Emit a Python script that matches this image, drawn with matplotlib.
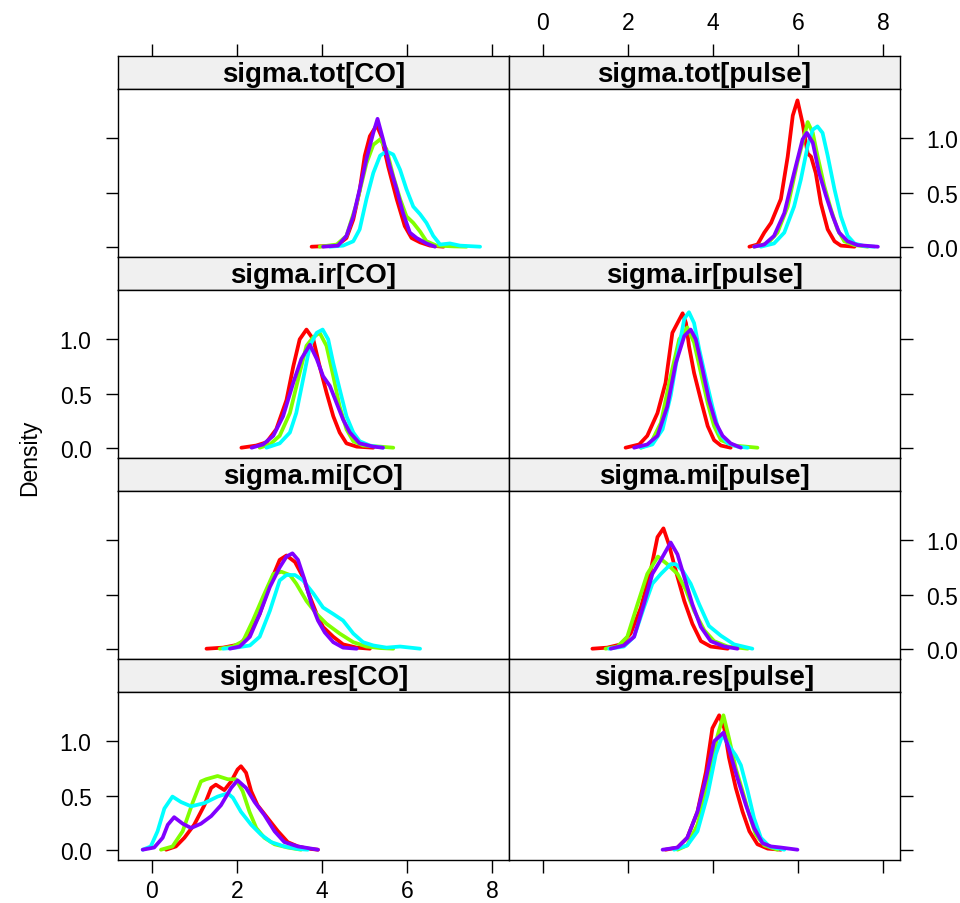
import matplotlib
matplotlib.use("Agg")
import matplotlib.pyplot as plt

plt.rcParams["font.family"] = ["Liberation Sans", "DejaVu Sans"]

# chain colours (rainbow(4))
chain_colors = ["#FF0000", "#80FF00", "#00FFFF", "#8000FF"]

panel_titles = [
    ["sigma.tot[CO]", "sigma.tot[pulse]"],
    ["sigma.ir[CO]", "sigma.ir[pulse]"],
    ["sigma.mi[CO]", "sigma.mi[pulse]"],
    ["sigma.res[CO]", "sigma.res[pulse]"],
]

x_ticks = [0, 2, 4, 6, 8]
y_ticks = [0.0, 0.5, 1.0]
y_tick_labels = ["0.0", "0.5", "1.0"]

# --- density curves: (x, density) per chain ---
# sigma.tot[CO]
tot_co_red = ([3.76, 4.35, 4.58, 4.74, 4.89, 5.01, 5.13, 5.29, 5.40, 5.56, 5.76, 5.95, 6.11, 6.31, 6.54, 6.86],
              [0, 0.01, 0.08, 0.25, 0.52, 0.84, 1.02, 1.12, 1.02, 0.74, 0.44, 0.19, 0.08, 0.04, 0.01, 0])
tot_co_green = ([3.95, 4.35, 4.58, 4.82, 5.05, 5.21, 5.37, 5.52, 5.68, 5.84, 5.99, 6.15, 6.31, 6.46, 6.70, 7.09, 7.40],
                [0, 0.02, 0.10, 0.40, 0.77, 0.94, 0.99, 0.90, 0.65, 0.44, 0.28, 0.22, 0.14, 0.05, 0.01, 0.003, 0])
tot_co_cyan = ([4.19, 4.50, 4.74, 4.89, 5.05, 5.21, 5.37, 5.52, 5.68, 5.84, 5.99, 6.15, 6.31, 6.46, 6.62, 6.78, 7.01, 7.25, 7.72],
               [0, 0.01, 0.05, 0.16, 0.44, 0.68, 0.84, 0.88, 0.85, 0.71, 0.53, 0.37, 0.30, 0.22, 0.10, 0.02, 0.03, 0.01, 0])
tot_co_purple = ([4.03, 4.38, 4.58, 4.74, 4.89, 5.05, 5.21, 5.31, 5.44, 5.60, 5.76, 5.91, 6.07, 6.23, 6.46, 6.66],
                 [0, 0.01, 0.10, 0.28, 0.53, 0.81, 1.05, 1.18, 0.99, 0.74, 0.53, 0.31, 0.13, 0.08, 0.03, 0])

# sigma.tot[pulse]
tot_pulse_red = ([4.86, 5.05, 5.21, 5.37, 5.60, 5.76, 5.88, 5.99, 6.11, 6.23, 6.31, 6.42, 6.54, 6.70, 6.86, 7.01, 7.33],
                 [0, 0.02, 0.13, 0.22, 0.44, 0.83, 1.21, 1.35, 1.14, 0.86, 0.83, 0.68, 0.40, 0.16, 0.05, 0.01, 0])
tot_pulse_green = ([4.97, 5.29, 5.52, 5.76, 5.99, 6.15, 6.23, 6.35, 6.46, 6.62, 6.78, 6.93, 7.09, 7.33, 7.64],
                   [0, 0.03, 0.13, 0.37, 0.78, 1.02, 1.15, 1.05, 0.84, 0.56, 0.34, 0.16, 0.05, 0.015, 0])
tot_pulse_cyan = ([5.13, 5.44, 5.68, 5.91, 6.07, 6.23, 6.35, 6.46, 6.58, 6.70, 6.86, 7.01, 7.17, 7.33, 7.56, 7.80],
                  [0, 0.03, 0.13, 0.37, 0.62, 0.93, 1.08, 1.11, 1.05, 0.84, 0.53, 0.28, 0.10, 0.03, 0.006, 0])
tot_pulse_purple = ([4.97, 5.21, 5.44, 5.68, 5.91, 6.11, 6.21, 6.35, 6.50, 6.66, 6.82, 6.97, 7.17, 7.40, 7.88],
                    [0, 0.02, 0.10, 0.31, 0.68, 0.99, 1.05, 0.96, 0.68, 0.47, 0.28, 0.13, 0.05, 0.015, 0])

# sigma.ir[CO]
ir_co_red = ([2.11, 2.46, 2.70, 2.93, 3.17, 3.33, 3.48, 3.64, 3.80, 3.95, 4.11, 4.27, 4.42, 4.58, 4.82, 5.21],
             [0, 0.02, 0.05, 0.17, 0.44, 0.75, 1.0, 1.09, 1.0, 0.75, 0.51, 0.29, 0.14, 0.04, 0.01, 0])
ir_co_green = ([2.54, 2.78, 3.01, 3.25, 3.48, 3.64, 3.80, 3.95, 4.11, 4.27, 4.42, 4.58, 4.74, 4.97, 5.37, 5.68],
               [0, 0.03, 0.11, 0.32, 0.69, 0.94, 1.02, 1.06, 0.94, 0.66, 0.38, 0.17, 0.06, 0.02, 0.01, 0])
ir_co_cyan = ([2.70, 3.01, 3.25, 3.40, 3.56, 3.72, 3.88, 4.02, 4.15, 4.27, 4.42, 4.58, 4.74, 4.89, 5.13, 5.44],
              [0, 0.04, 0.14, 0.32, 0.63, 0.94, 1.06, 1.09, 1.0, 0.78, 0.54, 0.29, 0.14, 0.06, 0.02, 0])
ir_co_purple = ([2.35, 2.62, 2.86, 3.09, 3.33, 3.52, 3.72, 3.88, 4.03, 4.19, 4.35, 4.50, 4.66, 4.89, 5.21, 5.44],
                [0, 0.03, 0.11, 0.29, 0.60, 0.82, 0.95, 0.82, 0.66, 0.57, 0.41, 0.26, 0.14, 0.04, 0.01, 0])

# sigma.ir[pulse]
ir_pulse_red = ([1.95, 2.27, 2.46, 2.70, 2.89, 3.05, 3.17, 3.29, 3.37, 3.44, 3.56, 3.72, 3.88, 4.03, 4.19, 4.42],
                [0, 0.03, 0.11, 0.32, 0.60, 1.06, 1.15, 1.24, 1.15, 0.94, 0.69, 0.44, 0.20, 0.07, 0.02, 0])
ir_pulse_green = ([2.31, 2.54, 2.78, 3.01, 3.21, 3.40, 3.56, 3.72, 3.88, 4.03, 4.19, 4.50, 5.05],
                  [0, 0.04, 0.23, 0.66, 1.0, 1.11, 0.97, 0.69, 0.41, 0.20, 0.07, 0.02, 0])
ir_pulse_cyan = ([2.31, 2.58, 2.82, 3.01, 3.21, 3.33, 3.44, 3.56, 3.68, 3.84, 3.99, 4.15, 4.35, 4.58, 4.82],
                 [0, 0.03, 0.17, 0.48, 0.94, 1.19, 1.25, 1.15, 0.91, 0.63, 0.38, 0.14, 0.04, 0.01, 0])
ir_pulse_purple = ([2.15, 2.46, 2.70, 2.93, 3.13, 3.33, 3.48, 3.60, 3.76, 3.91, 4.07, 4.23, 4.42, 4.66],
                   [0, 0.03, 0.11, 0.38, 0.78, 1.03, 1.09, 1.0, 0.72, 0.44, 0.23, 0.11, 0.04, 0])

# sigma.mi[CO]
mi_co_red = ([1.29, 1.68, 2.07, 2.31, 2.54, 2.78, 3.01, 3.17, 3.37, 3.56, 3.72, 3.88, 4.03, 4.27, 4.50, 4.82, 5.13],
             [0, 0.01, 0.04, 0.14, 0.32, 0.60, 0.82, 0.86, 0.80, 0.66, 0.48, 0.32, 0.20, 0.11, 0.04, 0.01, 0])
mi_co_green = ([1.60, 1.91, 2.15, 2.38, 2.62, 2.86, 3.05, 3.25, 3.40, 3.64, 3.88, 4.11, 4.42, 4.74, 5.05, 5.37, 5.68],
               [0, 0.02, 0.07, 0.26, 0.48, 0.69, 0.71, 0.68, 0.60, 0.44, 0.32, 0.23, 0.14, 0.06, 0.02, 0.006, 0])
mi_co_cyan = ([1.68, 1.99, 2.31, 2.54, 2.78, 3.01, 3.17, 3.37, 3.56, 3.80, 4.03, 4.27, 4.50, 4.74, 4.97, 5.21, 5.52, 5.84, 6.31],
              [0, 0.01, 0.03, 0.11, 0.35, 0.63, 0.68, 0.68, 0.63, 0.51, 0.38, 0.32, 0.26, 0.14, 0.06, 0.03, 0.01, 0.02, 0])
mi_co_purple = ([1.84, 2.07, 2.31, 2.54, 2.78, 3.01, 3.17, 3.31, 3.44, 3.60, 3.76, 3.91, 4.07, 4.27, 4.50, 4.82],
                [0, 0.02, 0.11, 0.32, 0.57, 0.75, 0.85, 0.88, 0.82, 0.63, 0.41, 0.26, 0.15, 0.06, 0.01, 0])

# sigma.mi[pulse]
mi_pulse_red = ([1.17, 1.52, 1.84, 2.07, 2.31, 2.54, 2.70, 2.84, 2.97, 3.13, 3.33, 3.52, 3.72, 3.95, 4.35],
                [0, 0.01, 0.04, 0.14, 0.38, 0.72, 1.03, 1.11, 0.96, 0.72, 0.44, 0.23, 0.07, 0.02, 0])
mi_pulse_green = ([1.48, 1.76, 1.99, 2.23, 2.46, 2.71, 2.93, 3.17, 3.37, 3.56, 3.80, 4.03, 4.35, 4.82],
                  [0, 0.02, 0.11, 0.41, 0.69, 0.85, 0.78, 0.69, 0.54, 0.35, 0.17, 0.07, 0.02, 0])
mi_pulse_cyan = ([1.56, 1.91, 2.15, 2.38, 2.58, 2.78, 3.01, 3.13, 3.29, 3.48, 3.68, 3.91, 4.19, 4.50, 4.93],
                 [0, 0.02, 0.11, 0.38, 0.60, 0.69, 0.78, 0.78, 0.72, 0.60, 0.41, 0.21, 0.12, 0.04, 0])
mi_pulse_purple = ([1.60, 1.91, 2.15, 2.38, 2.58, 2.78, 3.01, 3.17, 3.33, 3.52, 3.72, 3.95, 4.27, 4.58],
                   [0, 0.03, 0.11, 0.41, 0.69, 0.82, 0.98, 0.87, 0.66, 0.41, 0.20, 0.07, 0.02, 0])

# sigma.res[CO]
res_co_red = ([0.34, 0.57, 0.77, 1.00, 1.24, 1.40, 1.51, 1.71, 1.87, 2.02, 2.10, 2.22, 2.34, 2.49, 2.73, 2.97, 3.20, 3.44, 3.67, 3.91],
              [0, 0.03, 0.11, 0.23, 0.41, 0.57, 0.60, 0.55, 0.63, 0.74, 0.77, 0.71, 0.54, 0.41, 0.29, 0.17, 0.07, 0.03, 0.01, 0])
res_co_green = ([0.22, 0.49, 0.73, 0.97, 1.16, 1.28, 1.55, 1.79, 1.98, 2.14, 2.30, 2.46, 2.65, 2.89, 3.20, 3.51],
                [0, 0.03, 0.17, 0.44, 0.63, 0.65, 0.68, 0.65, 0.65, 0.54, 0.35, 0.20, 0.11, 0.05, 0.02, 0])
res_co_cyan = ([-0.21, -0.02, 0.14, 0.30, 0.49, 0.69, 0.93, 1.24, 1.55, 1.79, 1.91, 2.10, 2.34, 2.57, 2.81, 3.12, 3.44, 3.67],
               [0, 0.03, 0.17, 0.38, 0.49, 0.44, 0.40, 0.43, 0.49, 0.52, 0.48, 0.35, 0.23, 0.14, 0.07, 0.03, 0.006, 0])
res_co_purple = ([-0.21, 0.06, 0.26, 0.38, 0.53, 0.73, 0.93, 1.16, 1.40, 1.63, 1.87, 2.02, 2.22, 2.42, 2.65, 2.89, 3.12, 3.44, 3.91],
                 [0, 0.02, 0.11, 0.23, 0.30, 0.24, 0.20, 0.24, 0.31, 0.41, 0.57, 0.64, 0.57, 0.44, 0.32, 0.17, 0.07, 0.03, 0])

# sigma.res[pulse]
res_pulse_red = ([2.89, 3.17, 3.40, 3.64, 3.84, 3.99, 4.15, 4.27, 4.38, 4.54, 4.70, 4.86, 5.05, 5.29, 5.60],
                 [0, 0.02, 0.11, 0.35, 0.72, 1.12, 1.24, 1.12, 0.85, 0.57, 0.35, 0.17, 0.05, 0.01, 0])
res_pulse_green = ([3.17, 3.40, 3.64, 3.88, 4.11, 4.25, 4.38, 4.54, 4.70, 4.86, 5.01, 5.21, 5.52],
                   [0, 0.04, 0.23, 0.60, 1.05, 1.24, 1.03, 0.75, 0.54, 0.32, 0.14, 0.04, 0])
res_pulse_cyan = ([3.09, 3.40, 3.64, 3.88, 4.07, 4.23, 4.38, 4.54, 4.66, 4.82, 4.97, 5.13, 5.33, 5.68],
                  [0, 0.04, 0.17, 0.51, 0.88, 1.06, 0.96, 0.87, 0.78, 0.54, 0.29, 0.11, 0.03, 0])
res_pulse_purple = ([2.82, 3.17, 3.40, 3.64, 3.84, 4.03, 4.25, 4.38, 4.58, 4.78, 4.97, 5.17, 5.37, 5.60, 5.99],
                    [0, 0.02, 0.11, 0.35, 0.66, 1.0, 1.08, 0.93, 0.66, 0.41, 0.20, 0.06, 0.03, 0.02, 0])

panel_curves = [
    [[tot_co_red, tot_co_green, tot_co_cyan, tot_co_purple],
     [tot_pulse_red, tot_pulse_green, tot_pulse_cyan, tot_pulse_purple]],
    [[ir_co_red, ir_co_green, ir_co_cyan, ir_co_purple],
     [ir_pulse_red, ir_pulse_green, ir_pulse_cyan, ir_pulse_purple]],
    [[mi_co_red, mi_co_green, mi_co_cyan, mi_co_purple],
     [mi_pulse_red, mi_pulse_green, mi_pulse_cyan, mi_pulse_purple]],
    [[res_co_red, res_co_green, res_co_cyan, res_co_purple],
     [res_pulse_red, res_pulse_green, res_pulse_cyan, res_pulse_purple]],
]

W, H = 960, 904
fig = plt.figure(figsize=(W / 100, H / 100), dpi=100)

# pixel layout of the lattice
col_left = [118, 509]
col_width = 391
row_top = [57, 258, 459, 660]
strip_h = 33
body_h = 168
xlim = (-0.79, 8.4)
ylim = (-0.095, 1.455)

tick_fs = 16.5
strip_fs = 20
tick_len = 9


def frac(x, y, w, h):
    return [x / W, 1 - (y + h) / H, w / W, h / H]


for r in range(4):
    for c in range(2):
        x0 = col_left[c]
        # strip
        sax = fig.add_axes(frac(x0, row_top[r], col_width, strip_h))
        sax.set_facecolor("#F0F0F0")
        sax.set_xlim(xlim)
        sax.set_yticks([])
        sax.text(0.5, 0.45, panel_titles[r][c], transform=sax.transAxes,
                 ha="center", va="center", fontsize=strip_fs, fontweight="bold")
        if r == 0:
            sax.xaxis.tick_top()
            sax.set_xticks(x_ticks)
            sax.tick_params(axis="x", direction="out", length=tick_len, width=1,
                            labelsize=tick_fs, pad=7)
            if c == 0:
                sax.set_xticklabels([])
        else:
            sax.set_xticks([])
        for sp in sax.spines.values():
            sp.set_linewidth(1.0)

        # panel body
        ax = fig.add_axes(frac(x0, row_top[r] + strip_h, col_width, body_h))
        for (xs, ds), col in zip(panel_curves[r][c], chain_colors):
            ax.plot(xs, ds, color=col, lw=2.7, solid_joinstyle="round",
                    solid_capstyle="round")
        ax.set_xlim(xlim)
        ax.set_ylim(ylim)
        for sp in ax.spines.values():
            sp.set_linewidth(1.0)

        if r == 3:
            ax.set_xticks(x_ticks)
            ax.tick_params(axis="x", direction="out", length=tick_len, width=1,
                           labelsize=tick_fs, pad=5)
            if c == 1:
                ax.set_xticklabels([])
        else:
            ax.set_xticks([])

        ax.set_yticks(y_ticks)
        if c == 0:
            ax.yaxis.tick_left()
            show_label = r in (1, 3)
        else:
            ax.yaxis.tick_right()
            show_label = r in (0, 2)
        ax.tick_params(axis="y", direction="out", length=tick_len, width=1,
                       labelsize=tick_fs, pad=10)
        if show_label:
            ax.set_yticklabels(y_tick_labels)
        else:
            ax.set_yticklabels([])

fig.text(30 / W, 1 - 458 / H, "Density", rotation=90, ha="center", va="center",
         fontsize=16.5)

fig.savefig("out.png", dpi=100)
